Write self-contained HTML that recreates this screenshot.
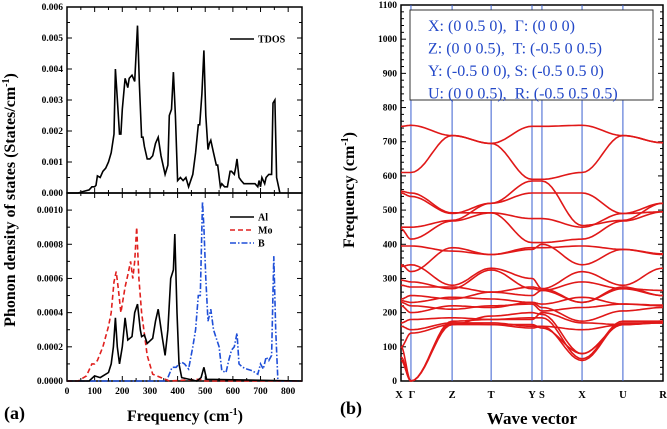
<!DOCTYPE html>
<html><head><meta charset="utf-8"><style>
body{margin:0;background:#fff}
svg{display:block;font-family:"Liberation Serif",serif;font-weight:bold}
</style></head><body>
<svg id="svg" width="667" height="429" viewBox="0 0 667 429" xmlns="http://www.w3.org/2000/svg">
<g id="dos"></g>
<g id="band"></g>
<text x="15" y="200" font-size="16" text-anchor="middle" transform="rotate(-90 15 200)">Phonon density of states (States/cm<tspan dy="-6" font-size="10">-1</tspan><tspan dy="6">)</tspan></text>
<text x="185" y="421" font-size="16" text-anchor="middle">Frequency (cm<tspan dy="-6" font-size="10">-1</tspan><tspan dy="6">)</tspan></text>
<text x="4" y="419" font-size="18">(a)</text>
<text x="354" y="190" font-size="16" text-anchor="middle" transform="rotate(-90 354 190)">Frequency (cm<tspan dy="-6" font-size="10">-1</tspan><tspan dy="6">)</tspan></text>
<text x="532" y="424" font-size="17" text-anchor="middle">Wave vector</text>
<text x="340" y="414" font-size="18">(b)</text>
</svg>
<script>
// ---------- DOS data ----------
const tdosF=[0,40,60,80,90,100,105,110,120,130,140,150,160,170,175,180,190,195,200,210,220,225,235,245,255,262,270,275,280,290,300,310,320,330,340,355,365,370,378,385,392,400,410,420,430,440,455,465,475,480,488,495,502,510,515,520,530,540,545,555,560,570,580,590,595,605,610,615,622,630,640,660,680,690,695,700,705,715,720,730,740,745,752,758,770];
const tdosV=[0,0,0.00005,0.0001,0.0002,0.0002,0.00025,0.00055,0.0005,0.0007,0.0008,0.001,0.0013,0.0019,0.0040,0.0033,0.0019,0.0019,0.0027,0.0037,0.0034,0.0037,0.0038,0.0036,0.0054,0.0035,0.0018,0.0018,0.0015,0.0011,0.0011,0.0012,0.0016,0.0018,0.0012,0.0006,0.0009,0.0025,0.0027,0.0039,0.0025,0.0004,0.0005,0.0004,0.0005,0.0002,0.0006,0.0013,0.0022,0.0022,0.0032,0.0046,0.0025,0.0014,0.0016,0.0017,0.0013,0.0009,0.0009,0.0002,0.0003,0.0002,0.0002,0.0007,0.0007,0.0006,0.0008,0.0011,0.0005,0.0004,0.0003,0.0003,0.0003,0.0002,0.0004,0.0002,0.0005,0.0003,0.0005,0.0006,0.0006,0.0029,0.0030,0.0005,0];
const alF=[0,80,100,120,150,160,168,175,182,190,200,210,220,235,245,255,265,270,280,290,310,320,330,345,355,365,375,385,390,398,405,415,470,485,495,505,850];
const alV=[0,0,0.00003,0.00002,0.00005,0.0001,0.0002,0.00037,0.0002,0.0001,0.0002,0.00037,0.00024,0.00026,0.0004,0.00045,0.0003,0.00026,0.00027,0.00022,0.00025,0.00035,0.00042,0.00025,0.00015,0.0003,0.0006,0.00065,0.00086,0.0004,0.0001,0.00002,0,0.00002,0.00008,0.00001,0];
const moF=[0,40,70,90,100,110,130,150,160,170,178,185,195,210,220,230,238,245,252,260,270,290,310,340,370,480,500,850];
const moV=[0,0,0.00003,0.0001,0.0001,0.00012,0.0002,0.00032,0.0004,0.00058,0.00064,0.00055,0.0004,0.00055,0.00062,0.0007,0.0006,0.0007,0.0009,0.0006,0.0004,0.00015,0.00004,0.00002,0,0.00001,0,0];
const bF=[0,360,380,395,405,415,425,440,455,465,475,482,490,495,502,510,520,530,540,550,560,575,585,595,605,615,622,635,650,670,690,700,710,720,730,740,748,755,763,850];
const bV=[0,0,0.00008,0.00008,0.0001,0.00011,0.0001,0.00007,0.0002,0.0003,0.0005,0.0005,0.00105,0.0009,0.0006,0.00035,0.00042,0.0003,0.00025,0.0002,0.00006,0.00005,0.00012,0.00018,0.0002,0.00028,0.0001,0.00008,0.00007,0.00006,0.00004,0.0001,0.00007,0.00014,0.00012,0.00015,0.00073,0.0003,0,0];
const dosXTicks=[0,100,200,300,400,500,600,700,800];
const topYTicks=[0,0.001,0.002,0.003,0.004,0.005,0.006];
const botYTicks=[0,0.0002,0.0004,0.0006,0.0008,0.001];

// ---------- band data ----------
const kLabels=["X","Γ","Z","T","Y","S","X","U","R"];
const kPos=[0,0.038,0.195,0.344,0.5,0.538,0.691,0.847,1];
const bands=[
[745,748,718,695,745,745,748,718,697],
[610,610,718,695,590,590,610,718,697],
[555,550,492,492,475,475,450,490,495],
[550,540,490,520,550,550,550,490,520],
[450,450,470,520,585,585,455,470,520],
[445,415,468,492,405,405,415,468,495],
[395,395,380,370,390,390,395,385,370],
[340,320,390,370,385,400,340,385,372],
[335,340,280,330,300,270,320,280,330],
[295,290,270,325,270,265,290,270,265],
[280,275,275,260,275,270,230,275,250],
[240,250,240,260,250,265,230,270,250],
[235,230,245,240,230,225,245,225,222],
[230,220,210,220,225,205,215,225,220],
[220,200,220,215,230,215,175,205,215],
[170,180,185,180,180,200,170,165,175],
[160,150,170,165,155,160,150,165,170],
[100,140,165,165,165,155,80,165,170],
[60,0,170,170,160,160,60,170,170],
[70,0,175,180,185,185,65,175,175],
[100,0,165,190,200,195,80,165,172]];
const bandYTicks=[0,100,200,300,400,500,600,700,800,900,1000,1100];

const NS="http://www.w3.org/2000/svg";
function mk(p,tag,at){const e=document.createElementNS(NS,tag);for(const k in at)e.setAttribute(k,at[k]);p.appendChild(e);return e;}
const dos=document.getElementById('dos'), band=document.getElementById('band');

// DOS axes
const X0=67,X1=302;
const fx=f=>X0+(f/850)*(X1-X0);
const ty=v=>193-(v/0.006)*186;
const by=v=>381-(v/0.0011)*188;
function panel(y0,y1,yTicks,yf,fmt,name){
  const r=mk(dos,'rect',{x:X0,y:y0,width:X1-X0,height:y1-y0,fill:'none',stroke:'#000','stroke-width':1.5});
  
  
  for(let f=0;f<=850;f+=50){const len=f%100===0?5:3;
    mk(dos,'line',{x1:fx(f),x2:fx(f),y1:y1,y2:y1-len,stroke:'#000'});
    mk(dos,'line',{x1:fx(f),x2:fx(f),y1:y0,y2:y0+len,stroke:'#000'});}
  yTicks.forEach((v,i)=>{const y=yf(v);
    mk(dos,'line',{x1:X0,x2:X0+5,y1:y,y2:y,stroke:'#000'});
    mk(dos,'line',{x1:X1,x2:X1-5,y1:y,y2:y,stroke:'#000'});
    if(i<yTicks.length-1){const m=yf((v+yTicks[i+1])/2);
      mk(dos,'line',{x1:X0,x2:X0+3,y1:m,y2:m,stroke:'#000'});
      mk(dos,'line',{x1:X1,x2:X1-3,y1:m,y2:m,stroke:'#000'});}
    const t=mk(dos,'text',{x:X0-4,y:y+3,'font-size':9.5,'text-anchor':'end'});t.textContent=fmt(v);
    
    });
}
panel(7,193,topYTicks,ty,v=>v.toFixed(3),'tdos');
panel(193,381,botYTicks,by,v=>v.toFixed(4),'pdos');
dosXTicks.forEach(f=>{const t=mk(dos,'text',{x:fx(f),y:394,'font-size':9.5,'text-anchor':'middle'});t.textContent=f;
  
  });
function curve(F,V,yf,color,dash,name){
  const pts=F.map((f,i)=>fx(f).toFixed(1)+','+yf(V[i]).toFixed(1)).join(' ');
  const p=mk(dos,'polyline',{points:pts,fill:'none',stroke:color,'stroke-width':1.6,'stroke-dasharray':dash});
  
  
}
curve(tdosF,tdosV,ty,'#000','none','tdos-line');
curve(bF,bV,by,'#1f4fd8','6,2,1.5,2','b-pdos-line');
curve(moF,moV,by,'#e0201e','5,3','mo-pdos-line');
curve(alF,alV,by,'#000','none','al-pdos-line');
// legends
function leg(y,color,dash,label,name){
  const l=mk(dos,'line',{x1:230,x2:254,y1:y,y2:y,stroke:color,'stroke-width':1.6,'stroke-dasharray':dash});
  
  
  const t=mk(dos,'text',{x:258,y:y+3.5,'font-size':10});t.textContent=label;
  
  
}
leg(39,'#000','none','TDOS','tdos');
leg(217,'#000','none','Al','al');
leg(230,'#e0201e','5,3','Mo','mo');
leg(243,'#1f4fd8','6,2,1.5,2','B','b');

// Band panel
const BX0=401,BX1=663;
const kx=k=>BX0+k*(BX1-BX0);
const wy=w=>381-(w/1100)*376;
const fr=mk(band,'rect',{x:BX0,y:5,width:BX1-BX0,height:376,fill:'none',stroke:'#000','stroke-width':1.5});


bandYTicks.forEach((w,i)=>{const y=wy(w);
  mk(band,'line',{x1:BX0,x2:BX0+5,y1:y,y2:y,stroke:'#000'});
  mk(band,'line',{x1:BX1,x2:BX1-5,y1:y,y2:y,stroke:'#000'});
  if(i<bandYTicks.length-1){for(let j=1;j<5;j++){const m=wy(w+j*20);
    mk(band,'line',{x1:BX0,x2:BX0+3,y1:m,y2:m,stroke:'#000'});
    mk(band,'line',{x1:BX1,x2:BX1-3,y1:m,y2:m,stroke:'#000'});}}
  const t=mk(band,'text',{x:BX0-4,y:y+3,'font-size':9.5,'text-anchor':'end'});t.textContent=w;
  
  });
kPos.forEach((k,i)=>{
  if(i>0&&i<kPos.length-1){const l=mk(band,'line',{x1:kx(k),x2:kx(k),y1:5,y2:381,stroke:'#3a5fd0','stroke-width':1});
    
    }
  const t=mk(band,'text',{x:kx(k)+(i===0?-2:i===1?1:0),y:398,'font-size':10.5,'text-anchor':'middle'});t.textContent=kLabels[i];
  
  });
bands.forEach(b=>{
  let d='';
  for(let s=0;s<kPos.length-1;s++){
    for(let j=0;j<=12;j++){const t=j/12,u=(1-Math.cos(Math.PI*t))/2;
      const k=kPos[s]+t*(kPos[s+1]-kPos[s]);const w=b[s]+u*(b[s+1]-b[s]);
      d+=(d?'L':'M')+kx(k).toFixed(1)+','+wy(w).toFixed(1);}
  }
  const p=mk(band,'path',{d:d,fill:'none',stroke:'#e01818','stroke-width':1.6});
  
  
});
// legend box
const lb=mk(band,'rect',{x:410,y:10,width:243,height:90,fill:'#fff',stroke:'#333','stroke-width':1});


["X: (0 0.5 0),  Γ: (0 0 0)","Z: (0 0 0.5),  T: (-0.5 0 0.5)","Y: (-0.5 0 0), S: (-0.5 0.5 0)","U: (0 0 0.5),  R: (-0.5 0.5 0.5)"].forEach((s,i)=>{
  const t=mk(band,'text',{x:428,y:31+i*22.5,'font-size':16,'font-weight':'normal',fill:'#2348c8'});
  t.style.whiteSpace='pre';t.textContent=s;
  
  });
</script>
</body></html>
